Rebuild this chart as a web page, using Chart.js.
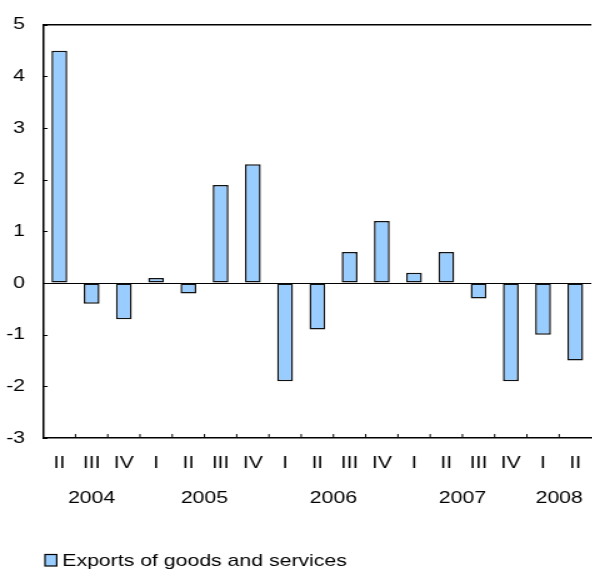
<!DOCTYPE html>
<html lang="en">
<head>
  <meta charset="UTF-8" />
  <title>Exports of goods and services</title>
  <script src="https://cdn.jsdelivr.net/npm/chart.js"></script>
  <style>
    body {
      margin: 0;
      background: #ffffff;
      overflow: hidden;
    }

    #exportsChart {
      display: block;
    }
  </style>
</head>
<body>
  <!-- the reference is stretched sideways, so the canvas is drawn narrow and shown wide -->
  <canvas id="exportsChart" width="480" height="573" style="width:600px;height:573px"></canvas>

  <script>
    const quarters = ['II', 'III', 'IV', 'I', 'II', 'III', 'IV', 'I', 'II', 'III', 'IV', 'I', 'II', 'III', 'IV', 'I', 'II'];
    const years = ['2004', '2005', '2006', '2007', '2008'];
    const quartersPerYear = [3, 4, 4, 4, 2];
    const exportsChange = [4.5, -0.4, -0.7, 0.1, -0.2, 1.9, 2.3, -1.9, -0.9, 0.6, 1.2, 0.2, 0.6, -0.3, -1.9, -1.0, -1.5];
    const yMin = -3, yMax = 5, yStep = 1;
    const seriesLabel = 'Exports of goods and services';

    const barFill = '#99ccff';
    const fontFamily = "'Liberation Sans', Arial, sans-serif";
    const fontSize = 17;

    Chart.defaults.font.family = fontFamily;
    Chart.defaults.font.size = fontSize;
    Chart.defaults.color = '#000';

    // axis frame, inward tick marks, year row and legend
    const extras = {
      id: 'extras',
      afterDraw(chart) {
        const ctx = chart.ctx;
        const area = chart.chartArea;
        const x = chart.scales.x;
        const y = chart.scales.y;
        ctx.save();
        ctx.strokeStyle = '#000';

        // top line
        ctx.lineWidth = 1.5;
        ctx.beginPath();
        ctx.moveTo(area.left, area.top);
        ctx.lineTo(area.right, area.top);
        ctx.stroke();

        // y ticks pointing into the plot
        ctx.lineWidth = 1;
        y.ticks.forEach(t => {
          const py = Math.round(y.getPixelForValue(t.value)) + 0.5;
          ctx.beginPath();
          ctx.moveTo(area.left, py);
          ctx.lineTo(area.left + 3.5, py);
          ctx.stroke();
        });

        // x ticks between quarters, pointing up
        for (let i = 1; i < quarters.length; i++) {
          const px = (x.getPixelForValue(i - 1) + x.getPixelForValue(i)) / 2;
          ctx.beginPath();
          ctx.moveTo(px, area.bottom);
          ctx.lineTo(px, area.bottom - 4);
          ctx.stroke();
        }

        // year labels centred under their quarters
        ctx.fillStyle = '#000';
        ctx.font = fontSize + 'px ' + fontFamily;
        ctx.textAlign = 'center';
        ctx.textBaseline = 'middle';
        let start = 0;
        years.forEach((yr, k) => {
          const end = start + quartersPerYear[k] - 1;
          const cx = (x.getPixelForValue(start) + x.getPixelForValue(end)) / 2;
          ctx.fillText(yr, cx, 498);
          start = end + 1;
        });

        // legend
        ctx.fillStyle = barFill;
        ctx.fillRect(36, 554.5, 9.4, 11.5);
        ctx.lineWidth = 1.2;
        ctx.strokeRect(36, 554.5, 9.4, 11.5);
        ctx.fillStyle = '#000';
        ctx.textAlign = 'left';
        ctx.fillText(seriesLabel, 49.8, 561);

        ctx.restore();
      }
    };

    new Chart(document.getElementById('exportsChart'), {
      type: 'bar',
      data: {
        labels: quarters,
        datasets: [{
          label: seriesLabel,
          data: exportsChange,
          backgroundColor: barFill,
          borderColor: '#111',
          borderWidth: 1.5,
          borderSkipped: false,
          barPercentage: 0.49,
          categoryPercentage: 1
        }]
      },
      options: {
        responsive: false,
        animation: false,
        devicePixelRatio: 1,
        layout: { padding: { top: 17, right: 1.6, bottom: 0, left: 0 } },
        plugins: {
          legend: { display: false },
          tooltip: { enabled: false }
        },
        scales: {
          x: {
            offset: true,
            grid: { display: false, drawTicks: false },
            border: { display: true, color: '#000', width: 1.5 },
            ticks: { padding: 15, maxRotation: 0, autoSkip: false },
            afterFit: s => { s.height = 135; }
          },
          y: {
            min: yMin,
            max: yMax,
            grid: {
              drawTicks: false,
              color: ctx => ctx.tick && ctx.tick.value === 0 ? '#000' : 'rgba(0,0,0,0)'
            },
            border: { display: true, color: '#000', width: 1.5 },
            ticks: { stepSize: yStep, padding: 14.6 },
            afterFit: s => { s.width = 34.6; }
          }
        }
      },
      plugins: [extras]
    });
  </script>
</body>
</html>
